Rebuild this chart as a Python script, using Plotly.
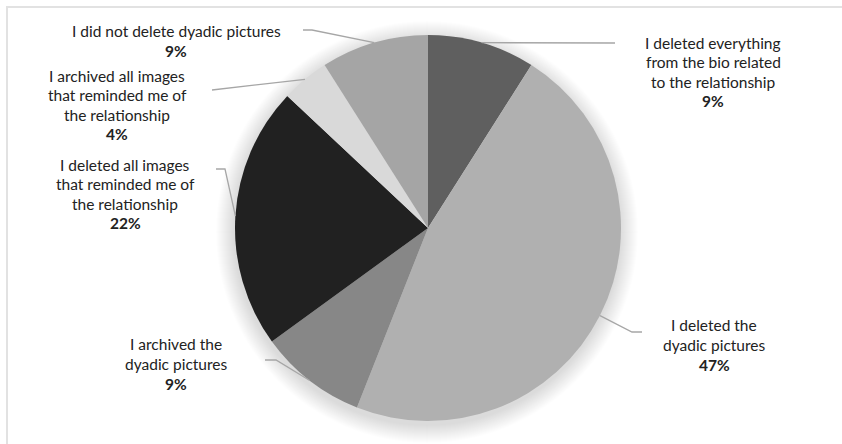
import math
import plotly.graph_objects as go

# ---- data ----
labels = [
    "I deleted everything<br>from the bio related<br>to the relationship",
    "I deleted the<br>dyadic pictures",
    "I archived the<br>dyadic pictures",
    "I deleted all images<br>that reminded me of<br>the relationship",
    "I archived all images<br>that reminded me of<br>the relationship",
    "I did not delete dyadic pictures",
]
values = [9, 47, 9, 22, 4, 9]
colors = ["#5f5f5f", "#b0b0b0", "#878787", "#212121", "#d9d9d9", "#a5a5a5"]

# ---- layout (pixel geometry) ----
W, H = 842, 444
CX, CY, R = 428, 228, 193
# label text centers
label_xy = [(713, 72), (714, 345), (176, 364), (125, 194), (117, 105), (176, 41)]
# leader line elbow + end points
leader_pts = [
    [(615, 43)],
    [(632, 332), (642, 332)],
    [(276, 360), (265, 360)],
    [(225, 169), (216, 169)],
    [(212, 90)],
    [(312, 30), (303, 30)],
]
LINE_H = 19.6
TEXT_COLOR = "#222222"
FONT = "Lato"

fig = go.Figure()
fig.add_trace(go.Pie(
    labels=[l.replace("<br>", " ") for l in labels],
    values=values,
    marker=dict(colors=colors, line=dict(width=0)),
    sort=False,
    direction="clockwise",
    rotation=0,
    textinfo="none",
    hoverinfo="skip",
    showlegend=False,
    domain=dict(x=[(CX - R) / W, (CX + R) / W], y=[1 - (CY + R) / H, 1 - (CY - R) / H]),
))

shapes = []
# border
shapes.append(dict(type="rect", xref="x", yref="y", x0=7, y0=7, x1=W + 20, y1=H + 20,
                   line=dict(color="#e2e2e2", width=2), fillcolor="rgba(0,0,0,0)", layer="below"))
# soft shadow
for k in range(1, 19):
    rr = R + k
    shapes.append(dict(type="circle", xref="x", yref="y",
                       x0=CX - 1 - rr, x1=CX - 1 + rr, y0=CY + 4 - rr, y1=CY + 4 + rr,
                       fillcolor="rgba(0,0,0,0.0075)", line=dict(width=0), layer="below"))

total = sum(values)
cum = 0
annotations = []
for i, v in enumerate(values):
    mid = (cum + v / 2) / total * 2 * math.pi
    cum += v
    sx = CX + R * math.sin(mid)
    sy = CY - R * math.cos(mid)
    pts = [(sx, sy)] + leader_pts[i]
    path = "M " + " L ".join(f"{x:.1f},{y:.1f}" for x, y in pts)
    shapes.append(dict(type="path", xref="x", yref="y", path=path,
                       line=dict(color="#a6a6a6", width=1.3), layer="above"))
    pct = f"<b>{round(v / total * 100)}%</b>"
    lines = labels[i].split("<br>") + [pct]
    n = len(lines)
    lx, ly = label_xy[i]
    for j, t in enumerate(lines):
        annotations.append(dict(
            x=lx, y=ly + (j - (n - 1) / 2) * LINE_H, xref="x", yref="y",
            text=t, showarrow=False, xanchor="center", yanchor="middle",
            font=dict(family=FONT, size=15.5, color=TEXT_COLOR),
        ))

fig.update_layout(
    width=W, height=H,
    margin=dict(l=0, r=0, t=0, b=0),
    paper_bgcolor="white", plot_bgcolor="white",
    xaxis=dict(range=[0, W], visible=False, fixedrange=True),
    yaxis=dict(range=[H, 0], visible=False, fixedrange=True),
    shapes=shapes,
    annotations=annotations,
)

fig.write_html("out.html")
